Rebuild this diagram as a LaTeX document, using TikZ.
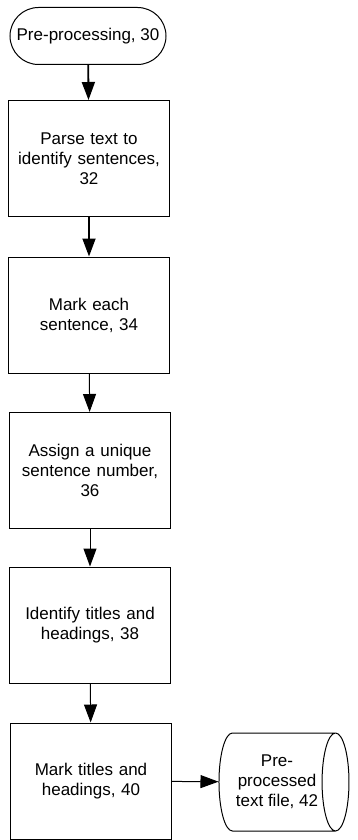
\documentclass[tikz,border=0pt]{standalone}
\usepackage{fontspec}
\setmainfont{Liberation Sans}
\usetikzlibrary{shapes.misc,shapes.geometric,arrows.meta}
\begin{document}
\begin{tikzpicture}[x=1pt,y=-1pt,line width=1pt,
    font=\fontsize{17}{20}\selectfont,
    stepbox/.style={draw,rectangle,minimum width=158pt,minimum height=116pt,align=center,text width=154pt},
    flow/.style={-{Triangle[length=18pt,width=13pt]}},
    thick flow/.style={flow,line width=1.8pt}]
      \useasboundingbox (0,0) rectangle (357,840);
      \node[draw,rounded rectangle,minimum width=160pt,minimum height=57pt,inner sep=2pt] (pre) at (88,36) {Pre-processing, 30};
      \node[stepbox] (parse) at (89,158.5) {Parse text to\\identify sentences,\\32};
      \node[stepbox] (mark) at (89,315) {Mark each\\sentence, 34};
      \node[stepbox] (assign) at (90,470.5) {Assign a unique\\sentence number,\\36};
      \node[stepbox] (ident) at (90,625) {Identify titles and\\headings, 38};
      \node[stepbox] (titles) at (91,781) {Mark titles and\\headings, 40};
      \node[draw,cylinder,aspect=0.5,minimum width=98pt,minimum height=130pt,align=center,inner sep=0pt] (file) at (277,782) {Pre-\\processed\\text file, 42};
      \draw[thick flow] (pre) -- (parse);
      \draw[thick flow] (parse) -- (mark);
      \draw[flow] (mark) -- (assign);
      \draw[flow] (assign) -- (ident);
      \draw[flow] (ident) -- (titles);
      \draw[flow] (titles) -- (file);
    \end{tikzpicture}
\end{document}
